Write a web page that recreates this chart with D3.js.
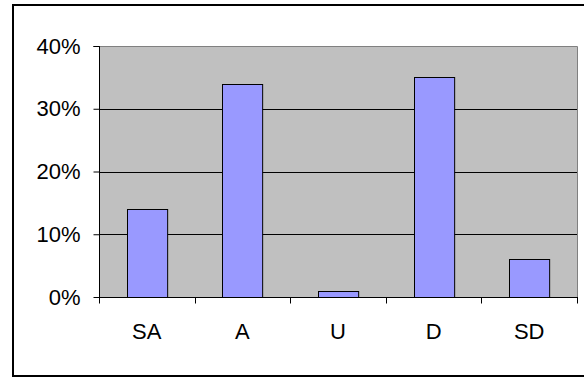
<!DOCTYPE html>
<html>
<head>
<meta charset="utf-8">
<script src="https://cdn.jsdelivr.net/npm/d3@7"></script>
<style>
  html, body { margin: 0; padding: 0; background: #fff; }
  svg { display: block; }
  text { font-family: "Liberation Sans", Arial, sans-serif; }
</style>
</head>
<body>
<svg id="chart" width="584" height="379"></svg>
<script>
// Response shares per answer category
const categories = ["SA", "A", "U", "D", "SD"];
const shares = [0.14, 0.34, 0.01, 0.35, 0.06];
const yTicks = [0, 0.1, 0.2, 0.3, 0.4];

const svg = d3.select("#chart");
const W = 584, H = 379;
const plot = { left: 99, top: 46, right: 577, bottom: 297 };

// Outer chart frame (right edge falls outside the view)
svg.append("rect")
  .attr("x", 13).attr("y", 5)
  .attr("width", 600).attr("height", 371)
  .attr("fill", "#fff").attr("stroke", "#000").attr("stroke-width", 2);

const x = d3.scaleBand()
  .domain(categories)
  .range([plot.left, plot.right])
  .paddingInner(0.58)
  .paddingOuter(0.29);

const y = d3.scaleLinear()
  .domain([0, 0.4])
  .range([plot.bottom, plot.top]);

// Plot background
svg.append("rect")
  .attr("x", plot.left).attr("y", plot.top)
  .attr("width", plot.right - plot.left).attr("height", plot.bottom - plot.top)
  .attr("fill", "#c0c0c0");

// Gray plot border on top/right
svg.append("path")
  .attr("d", `M${plot.left},${plot.top + 0.5}H${plot.right + 0.5}V${plot.bottom}`)
  .attr("fill", "none").attr("stroke", "#808080").attr("stroke-width", 1);

// Horizontal gridlines
svg.append("g")
  .selectAll("line")
  .data(yTicks.filter(d => d > 0 && d < 0.4))
  .join("line")
  .attr("x1", plot.left).attr("x2", plot.right)
  .attr("y1", d => Math.round(y(d)) + 0.5).attr("y2", d => Math.round(y(d)) + 0.5)
  .attr("stroke", "#000").attr("stroke-width", 1);

// Bars
svg.append("g")
  .selectAll("rect")
  .data(categories.map((c, i) => ({ c, v: shares[i] })))
  .join("rect")
  .attr("x", d => Math.round(x(d.c)) + 0.5)
  .attr("y", d => Math.round(y(d.v)) + 0.5)
  .attr("width", x.bandwidth())
  .attr("height", d => Math.round(y(0)) - Math.round(y(d.v)))
  .attr("fill", "#9999ff")
  .attr("stroke", "#000").attr("stroke-width", 1);

// Y axis
const yAxis = d3.axisLeft(y)
  .tickValues(yTicks)
  .tickFormat(d3.format(".0%"))
  .tickSize(6)
  .tickPadding(13);
const gy = svg.append("g")
  .attr("transform", `translate(${plot.left + 0.5},0)`)
  .call(yAxis);
gy.select(".domain").attr("stroke", "#000").attr("d", `M-6,${plot.top + 0.5}H0V${plot.bottom + 0.5}`);
gy.selectAll(".tick line").attr("stroke", "#000");
gy.selectAll(".tick text")
  .attr("font-size", 22).attr("fill", "#000")
  .attr("font-family", "'Liberation Sans', Arial, sans-serif");

// X axis with tick marks between categories
const gx = svg.append("g")
  .attr("transform", `translate(0,${plot.bottom + 0.5})`);
gx.append("line")
  .attr("x1", plot.left).attr("x2", plot.right + 1)
  .attr("stroke", "#000");
const step = x.step();
gx.selectAll("line.tk")
  .data(d3.range(categories.length + 1))
  .join("line")
  .attr("class", "tk")
  .attr("x1", i => Math.round(plot.left + i * step) + 0.5)
  .attr("x2", i => Math.round(plot.left + i * step) + 0.5)
  .attr("y1", 0).attr("y2", 6)
  .attr("stroke", "#000");
gx.selectAll("text")
  .data(categories)
  .join("text")
  .attr("x", d => x(d) + x.bandwidth() / 2)
  .attr("y", 41)
  .attr("text-anchor", "middle")
  .attr("font-size", 22)
  .attr("fill", "#000")
  .text(d => d);
</script>
</body>
</html>
